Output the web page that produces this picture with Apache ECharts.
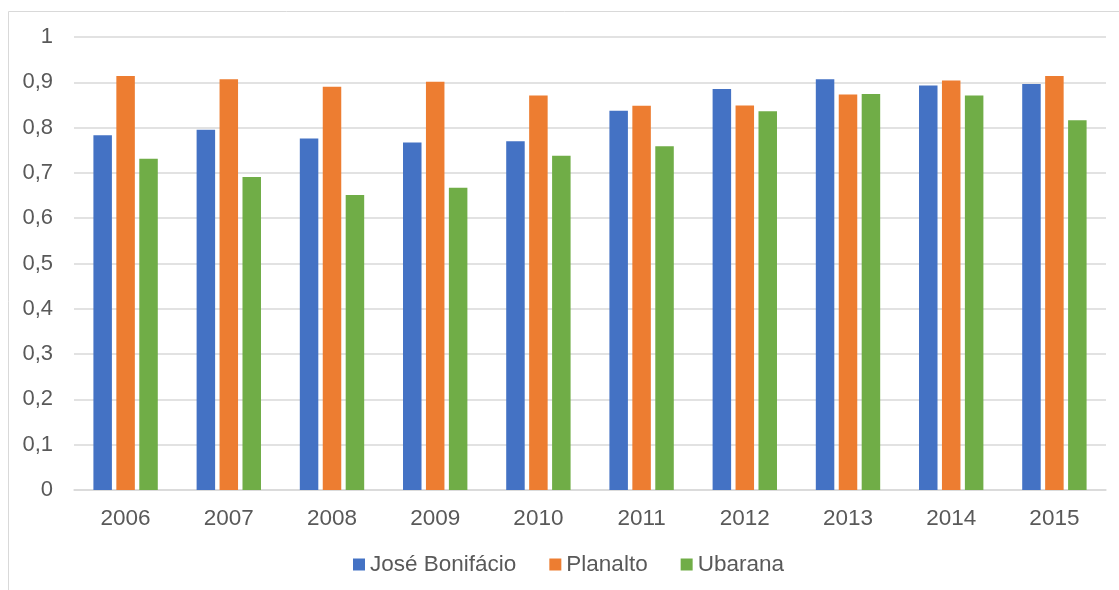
<!DOCTYPE html>
<html>
<head>
<meta charset="utf-8">
<script src="https://cdn.jsdelivr.net/npm/echarts@6/dist/echarts.min.js"></script>
<style>
html,body{margin:0;padding:0;background:#fff;}
#c{width:1119px;height:590px;}
</style>
</head>
<body>
<div id="c"></div>
<script>
const years = ['2006','2007','2008','2009','2010','2011','2012','2013','2014','2015'];
const seriesNames = ['José Bonifácio','Planalto','Ubarana'];
const joseBonifacio = [0.783,0.795,0.776,0.767,0.770,0.837,0.885,0.907,0.893,0.896];
const planalto = [0.914,0.907,0.890,0.901,0.871,0.848,0.849,0.873,0.904,0.914];
const ubarana = [0.731,0.691,0.651,0.667,0.738,0.759,0.836,0.874,0.871,0.816];
const colors = ['#4472C4','#ED7D31','#70AD47'];

const chart = echarts.init(document.getElementById('c'));
const font = 'Arial, "Liberation Sans", sans-serif';
const dataSets = [joseBonifacio, planalto, ubarana];
chart.setOption({
  animation: false,
  color: colors,
  graphic: [{
    type: 'rect',
    shape: {x: 8.5, y: 11.5, width: 1200, height: 700},
    style: {fill: 'none', stroke: '#d9d9d9', lineWidth: 1},
    silent: true, z: -10
  }],
  grid: {left: 74, right: 13, top: 37, bottom: 100},
  legend: {
    bottom: 14,
    left: 353,
    itemWidth: 12,
    itemHeight: 12,
    itemGap: 33,
    icon: 'rect',
    padding: 0,
    textStyle: {color: '#595959', fontSize: 22.5, fontFamily: font},
    data: seriesNames
  },
  xAxis: {
    type: 'category',
    data: years,
    axisLine: {lineStyle: {color: '#d9d9d9', width: 1.5}},
    axisTick: {show: false},
    axisLabel: {color: '#595959', fontSize: 22.5, fontFamily: font, margin: 17}
  },
  yAxis: {
    type: 'value',
    min: 0, max: 1, interval: 0.1,
    axisLine: {show: false},
    axisTick: {show: false},
    splitLine: {lineStyle: {color: '#d9d9d9', width: 1.5}},
    axisLabel: {
      color: '#595959', fontSize: 22, fontFamily: font, margin: 21,
      formatter: v => String(Math.round(v*10)/10).replace('.', ',')
    }
  },
  series: seriesNames.map((n, i) => ({
    name: n,
    type: 'bar',
    data: dataSets[i],
    barWidth: 18.5,
    barGap: '24%',
    itemStyle: {color: colors[i]}
  }))
});
</script>
</body>
</html>
